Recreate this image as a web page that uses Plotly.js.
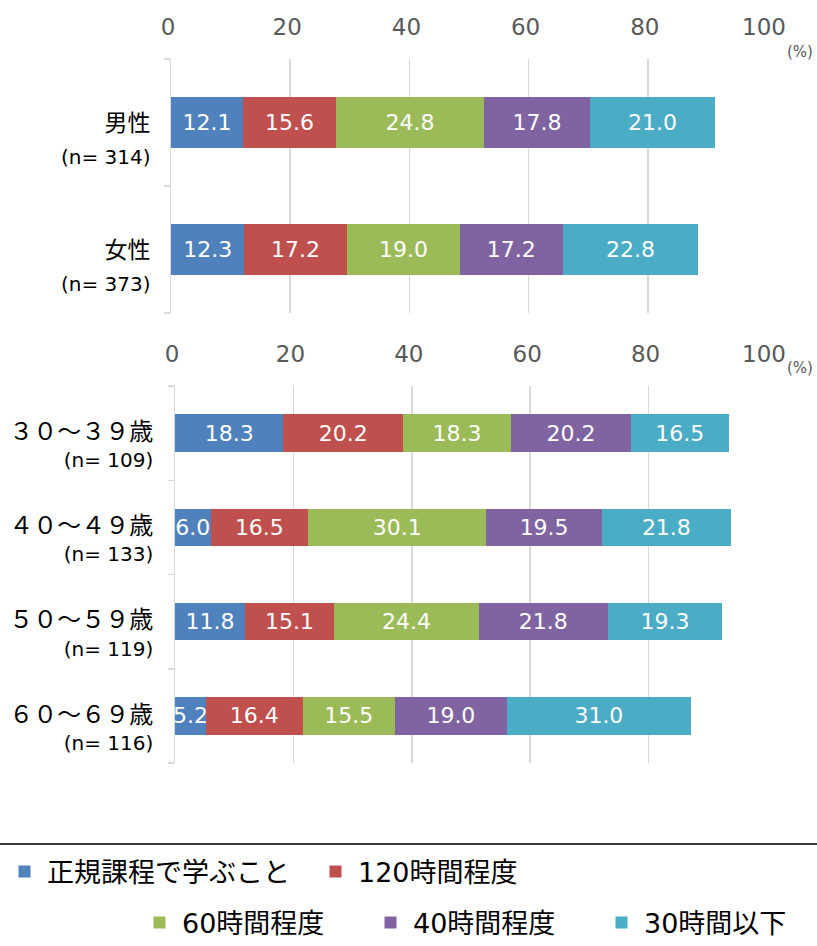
<!DOCTYPE html>
<html>
<head>
<meta charset="utf-8">
<script src="https://cdn.plot.ly/plotly-3.0.1.min.js"></script>
<style>
  html, body { margin: 0; padding: 0; background: #ffffff; }
  #chart { width: 817px; height: 946px; }
</style>
</head>
<body>
<div id="chart"></div>
<script>
// Series (legend order) and their colours
const seriesNames = ['正規課程で学ぶこと', '120時間程度', '60時間程度', '40時間程度', '30時間以下'];
const seriesColors = ['#4F81BD', '#C0504D', '#9BBB59', '#8064A2', '#4BACC6'];

// Upper panel: by gender
const genderCats = ['男性', '女性'];
const genderN = [314, 373];
const genderRegular = [12.1, 12.3];
const gender120h = [15.6, 17.2];
const gender60h = [24.8, 19.0];
const gender40h = [17.8, 17.2];
const gender30h = [21.0, 22.8];

// Lower panel: by age group
const ageCats = ['３０～３９歳', '４０～４９歳', '５０～５９歳', '６０～６９歳'];
const ageN = [109, 133, 119, 116];
const ageRegular = [18.3, 6.0, 11.8, 5.2];
const age120h = [20.2, 16.5, 15.1, 16.4];
const age60h = [18.3, 30.1, 24.4, 15.5];
const age40h = [20.2, 19.5, 21.8, 19.0];
const age30h = [16.5, 21.8, 19.3, 31.0];

const xTicks = [0, 20, 40, 60, 80, 100];

const genderSeries = [genderRegular, gender120h, gender60h, gender40h, gender30h];
const ageSeries = [ageRegular, age120h, age60h, age40h, age30h];

const FONT = 'DejaVu Sans, "Noto Sans CJK JP", sans-serif';
const W = 817, H = 946;
const px = v => v / W;
const py = v => 1 - v / H;

function makeTraces(cats, seriesList, xa, ya, withLegend) {
  return seriesList.map((vals, i) => ({
    type: 'bar',
    orientation: 'h',
    name: seriesNames[i],
    y: cats,
    x: vals,
    xaxis: xa,
    yaxis: ya,
    marker: { color: seriesColors[i], line: { width: 0 } },
    text: vals.map(v => v.toFixed(1)),
    textposition: 'inside',
    insidetextanchor: 'middle',
    constraintext: 'none',
    textangle: 0,
    textfont: { family: FONT, size: 22, color: '#ffffff' },
    cliponaxis: true,
    hoverinfo: 'skip',
    legendgroup: 's' + i,
    showlegend: withLegend,
    legend: i < 2 ? 'legend' : 'legend2'
  }));
}

const traces = []
  .concat(makeTraces(genderCats, genderSeries, 'x', 'y', true))
  .concat(makeTraces(ageCats, ageSeries, 'x2', 'y2', false));

function catLabels(cats, ns, lineSize, nSize) {
  return cats.map((c, i) =>
    '<span style="font-size:' + lineSize + 'px">' + c + '</span><br>' +
    '<span style="font-size:' + nSize + 'px">(n= ' + ns[i] + ')</span>');
}

const xAxisBase = {
  range: [0, 100],
  side: 'top',
  tickvals: xTicks,
  ticktext: xTicks.map(String),
  showgrid: true,
  gridcolor: '#D9D9D9',
  gridwidth: 1.5,
  zeroline: false,
  showline: false,
  ticks: '',
  ticklabelstandoff: 18,
  ticklabelshift: -3,
  tickfont: { family: FONT, size: 23, color: '#595959' },
  fixedrange: true
};

const yAxisBase = {
  type: 'category',
  showgrid: false,
  zeroline: false,
  showline: true,
  linecolor: '#D9D9D9',
  linewidth: 1.5,
  ticks: 'outside',
  tickson: 'boundaries',
  ticklen: 6,
  tickwidth: 1.5,
  tickcolor: '#D9D9D9',
  fixedrange: true
};

const legendBase = {
  orientation: 'h',
  xanchor: 'left',
  yanchor: 'middle',
  itemwidth: 35,
  entrywidthmode: 'pixels',
  font: { family: FONT, size: 27, color: '#000000' },
  bgcolor: 'rgba(0,0,0,0)',
  traceorder: 'normal'
};

const layout = {
  width: W,
  height: H,
  margin: { l: 0, r: 0, t: 0, b: 0, autoexpand: false },
  paper_bgcolor: '#ffffff',
  plot_bgcolor: '#ffffff',
  barmode: 'stack',
  bargap: 0.6,
  font: { family: FONT, color: '#000000' },
  xaxis: Object.assign({}, xAxisBase, {
    domain: [px(171), px(767)],
    anchor: 'y'
  }),
  yaxis: Object.assign({}, yAxisBase, {
    domain: [py(313), py(59)],
    anchor: 'x',
    range: [1.5, -0.5],
    tickvals: genderCats,
    ticktext: catLabels(genderCats, genderN, 23, 20),
    tickfont: { family: FONT, size: 25, color: '#000000' },
    ticklabelstandoff: 14,
    ticklabelshift: -16
  }),
  xaxis2: Object.assign({}, xAxisBase, {
    domain: [px(175), px(767)],
    anchor: 'y2'
  }),
  yaxis2: Object.assign({}, yAxisBase, {
    domain: [py(763), py(386)],
    anchor: 'x2',
    range: [3.5, -0.5],
    tickvals: ageCats,
    ticktext: catLabels(ageCats, ageN, 24, 20),
    tickfont: { family: FONT, size: 21, color: '#000000' },
    ticklabelstandoff: 16,
    ticklabelshift: -13
  }),
  legend: Object.assign({}, legendBase, {
    x: px(2), y: py(872),
    entrywidth: 261
  }),
  legend2: Object.assign({}, legendBase, {
    x: px(137), y: py(923),
    entrywidth: 181
  }),
  shapes: [
    {
      type: 'line', xref: 'paper', yref: 'paper',
      x0: 0, x1: 1, y0: py(844), y1: py(844),
      line: { color: '#3a3a3a', width: 2 }
    }
  ],
  annotations: [
    {
      xref: 'paper', yref: 'paper', x: px(800), y: py(52),
      text: '(%)', showarrow: false, xanchor: 'center', yanchor: 'middle',
      font: { family: FONT, size: 15, color: '#595959' }
    },
    {
      xref: 'paper', yref: 'paper', x: px(800), y: py(368),
      text: '(%)', showarrow: false, xanchor: 'center', yanchor: 'middle',
      font: { family: FONT, size: 15, color: '#595959' }
    }
  ]
};

Plotly.newPlot('chart', traces, layout, { displayModeBar: false, staticPlot: true });
</script>
</body>
</html>
